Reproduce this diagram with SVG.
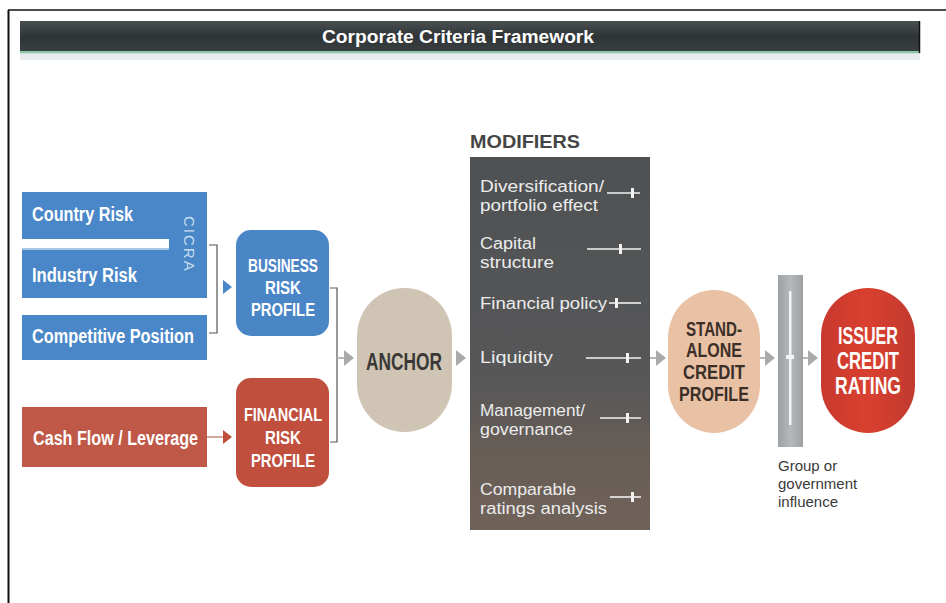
<svg xmlns="http://www.w3.org/2000/svg" width="946" height="603" viewBox="0 0 946 603">
<defs>
<linearGradient id="titleG" x1="0" y1="0" x2="0" y2="1">
<stop offset="0" stop-color="#4a5052"/><stop offset="0.5" stop-color="#2f3436"/><stop offset="1" stop-color="#3a4042"/>
</linearGradient>
<linearGradient id="modG" x1="0" y1="0" x2="0" y2="1">
<stop offset="0" stop-color="#4e5153"/><stop offset="0.6" stop-color="#575758"/><stop offset="0.78" stop-color="#665d57"/><stop offset="1" stop-color="#706259"/>
</linearGradient>
<linearGradient id="issG" x1="0" y1="0" x2="1" y2="0">
<stop offset="0" stop-color="#c8392e"/><stop offset="0.5" stop-color="#d9402f"/><stop offset="1" stop-color="#c23a30"/>
</linearGradient>
<linearGradient id="barG" x1="0" y1="0" x2="1" y2="0">
<stop offset="0" stop-color="#9da1a4"/><stop offset="0.5" stop-color="#b4b8bb"/><stop offset="1" stop-color="#9da1a4"/>
</linearGradient>
<style>
.lbl{font-family:"Liberation Sans",Arial,sans-serif;font-weight:bold;fill:#ffffff}
.cap{font-family:"Liberation Sans",Arial,sans-serif;font-weight:bold;text-anchor:middle}
.mod{font-family:"Liberation Sans",Arial,sans-serif;font-size:16px;fill:#ececec}
.sl{stroke:#f2f2f2;stroke-width:1.6;fill:none}
.tk{fill:#f2f2f2}
.br{stroke:#555;stroke-width:1.2;fill:none}
.ga{fill:#a9abaa}
.gl{stroke:#b5b7b6;stroke-width:2}
</style>
</defs>
<rect width="946" height="603" fill="#ffffff"/>
<!-- frame -->
<line x1="8" y1="10" x2="946" y2="10" stroke="#111" stroke-width="1.5"/>
<line x1="8.5" y1="10" x2="8.5" y2="603" stroke="#111" stroke-width="2"/>
<!-- title -->
<g id="title">
<rect x="20" y="21" width="900" height="31" fill="url(#titleG)"/>
<rect x="20" y="51" width="900" height="2.5" fill="#8cc4a4"/>
<rect x="20" y="54" width="900" height="6" fill="#e8ebee"/>
<line x1="919.5" y1="21" x2="919.5" y2="53" stroke="#111" stroke-width="1.5"/>
<text x="458" y="43" class="lbl" font-size="18" text-anchor="middle" textLength="272" lengthAdjust="spacingAndGlyphs" fill="#f4f4f4">Corporate Criteria Framework</text>
</g>
<!-- CICRA block -->
<g id="cicra">
<rect x="22" y="192" width="185" height="106" fill="#4a87c8"/>
<rect x="22" y="239" width="147" height="11" fill="#ffffff"/>
<rect x="22" y="248" width="147" height="2" fill="#a9c6e6"/>
<text x="32" y="221" class="lbl" font-size="20" textLength="101" lengthAdjust="spacingAndGlyphs">Country Risk</text>
<text x="32" y="282" class="lbl" font-size="20" textLength="105" lengthAdjust="spacingAndGlyphs">Industry Risk</text>
<text transform="translate(184,216) rotate(90)" font-family="Liberation Sans,Arial,sans-serif" font-size="15" fill="#c9dcef" letter-spacing="2">CICRA</text>
</g>
<g id="competitive">
<rect x="22" y="315" width="185" height="45" fill="#4a87c8"/>
<text x="32" y="343" class="lbl" font-size="20" textLength="162" lengthAdjust="spacingAndGlyphs">Competitive Position</text>
</g>
<g id="cashflow">
<rect x="22" y="407" width="185" height="60" fill="#bf5846"/>
<text x="33" y="445" class="lbl" font-size="20" textLength="165" lengthAdjust="spacingAndGlyphs">Cash Flow / Leverage</text>
</g>
<g id="business">
<rect x="236" y="230" width="93" height="106" rx="15" fill="#4a85c6"/>
<text x="283" y="272" class="cap" font-size="19" fill="#fff" textLength="70" lengthAdjust="spacingAndGlyphs">BUSINESS</text>
<text x="283" y="294" class="cap" font-size="19" fill="#fff" textLength="36" lengthAdjust="spacingAndGlyphs">RISK</text>
<text x="283" y="316" class="cap" font-size="19" fill="#fff" textLength="64" lengthAdjust="spacingAndGlyphs">PROFILE</text>
</g>
<g id="financial">
<rect x="236" y="378" width="93" height="109" rx="15" fill="#c0503d"/>
<text x="283" y="421" class="cap" font-size="19" fill="#fff" textLength="78" lengthAdjust="spacingAndGlyphs">FINANCIAL</text>
<text x="283" y="444" class="cap" font-size="19" fill="#fff" textLength="36" lengthAdjust="spacingAndGlyphs">RISK</text>
<text x="283" y="467" class="cap" font-size="19" fill="#fff" textLength="64" lengthAdjust="spacingAndGlyphs">PROFILE</text>
</g>
<g id="anchor">
<rect x="357" y="288" width="95" height="144" rx="47" ry="48" fill="#d0c4b4"/>
<text x="404" y="370" class="cap" font-size="23" fill="#3a3836" textLength="76" lengthAdjust="spacingAndGlyphs">ANCHOR</text>
</g>
<g id="modifiers">
<text x="470" y="148" font-family="Liberation Sans,Arial,sans-serif" font-weight="bold" font-size="19" fill="#454545" textLength="110" lengthAdjust="spacingAndGlyphs">MODIFIERS</text>
<rect x="470" y="157" width="180" height="373" fill="url(#modG)"/>
<text x="480" y="192" class="mod" textLength="124" lengthAdjust="spacingAndGlyphs">Diversification/</text>
<text x="480" y="211" class="mod" textLength="118" lengthAdjust="spacingAndGlyphs">portfolio effect</text>
<path class="sl" d="M607 193H640"/><rect class="tk" x="631" y="188" width="3" height="10"/>
<text x="480" y="249" class="mod" textLength="56" lengthAdjust="spacingAndGlyphs">Capital</text>
<text x="480" y="268" class="mod" textLength="74" lengthAdjust="spacingAndGlyphs">structure</text>
<path class="sl" d="M587 249H641"/><rect class="tk" x="619" y="244" width="3" height="10"/>
<text x="480" y="309" class="mod" textLength="127" lengthAdjust="spacingAndGlyphs">Financial policy</text>
<path class="sl" d="M609 303H641"/><rect class="tk" x="615" y="298" width="3" height="10"/>
<text x="480" y="363" class="mod" textLength="73" lengthAdjust="spacingAndGlyphs">Liquidity</text>
<path class="sl" d="M586 358H641"/><rect class="tk" x="626" y="353" width="3" height="10"/>
<text x="480" y="416" class="mod" textLength="105" lengthAdjust="spacingAndGlyphs">Management/</text>
<text x="480" y="435" class="mod" textLength="93" lengthAdjust="spacingAndGlyphs">governance</text>
<path class="sl" d="M600 418H641"/><rect class="tk" x="626" y="413" width="3" height="10"/>
<text x="480" y="495" class="mod" textLength="96" lengthAdjust="spacingAndGlyphs">Comparable</text>
<text x="480" y="514" class="mod" textLength="127" lengthAdjust="spacingAndGlyphs">ratings analysis</text>
<path class="sl" d="M610 497H641"/><rect class="tk" x="631" y="492" width="3" height="10"/>
</g>
<g id="standalone">
<rect x="668" y="290" width="92" height="143" rx="46" ry="48" fill="#e9c1a5"/>
<text x="714" y="336" class="cap" font-size="20" fill="#3b2f28" textLength="56" lengthAdjust="spacingAndGlyphs">STAND-</text>
<text x="714" y="357" class="cap" font-size="20" fill="#3b2f28" textLength="56" lengthAdjust="spacingAndGlyphs">ALONE</text>
<text x="714" y="379" class="cap" font-size="20" fill="#3b2f28" textLength="62" lengthAdjust="spacingAndGlyphs">CREDIT</text>
<text x="714" y="401" class="cap" font-size="20" fill="#3b2f28" textLength="70" lengthAdjust="spacingAndGlyphs">PROFILE</text>
</g>
<g id="group">
<rect x="778" y="275" width="25" height="172" fill="url(#barG)"/>
<rect x="789" y="291" width="2.5" height="134" fill="#f4f4f4"/>
<rect x="786" y="355" width="8" height="4" fill="#f4f4f4"/>
<text font-family="Liberation Sans,Arial,sans-serif" font-size="15" fill="#3a3a3a">
<tspan x="778" y="471">Group or</tspan>
<tspan x="778" y="489">government</tspan>
<tspan x="778" y="507">influence</tspan>
</text>
</g>
<g id="issuer">
<rect x="821" y="288" width="94" height="145" rx="47" ry="48" fill="url(#issG)"/>
<text x="868" y="344" class="cap" font-size="23" fill="#fff" textLength="60" lengthAdjust="spacingAndGlyphs">ISSUER</text>
<text x="868" y="369" class="cap" font-size="23" fill="#fff" textLength="62" lengthAdjust="spacingAndGlyphs">CREDIT</text>
<text x="868" y="394" class="cap" font-size="23" fill="#fff" textLength="66" lengthAdjust="spacingAndGlyphs">RATING</text>
</g>
<g id="connectors">
<path class="br" d="M209 245H217V333H209"/>
<path d="M223 280L232 287L223 294Z" fill="#4a87c8"/>
<line x1="207" y1="437" x2="223" y2="437" stroke="#c98a80" stroke-width="1.5"/>
<path d="M223 430L232 437L223 444Z" fill="#c0503d"/>
<path class="br" d="M330 288H337V442H330"/>
<line class="gl" x1="337" y1="358" x2="346" y2="358"/>
<path class="ga" d="M344 350L354 358L344 366Z"/>
<path class="ga" d="M456 350L466 358L456 366Z"/>
<line class="gl" x1="650" y1="358" x2="657" y2="358"/>
<path class="ga" d="M656 350L666 358L656 366Z"/>
<line class="gl" x1="760" y1="358" x2="767" y2="358"/>
<path class="ga" d="M765 350L775 358L765 366Z"/>
<line class="gl" x1="803" y1="358" x2="809" y2="358"/>
<path class="ga" d="M808 350L818 358L808 366Z"/>
</g>
</svg>
